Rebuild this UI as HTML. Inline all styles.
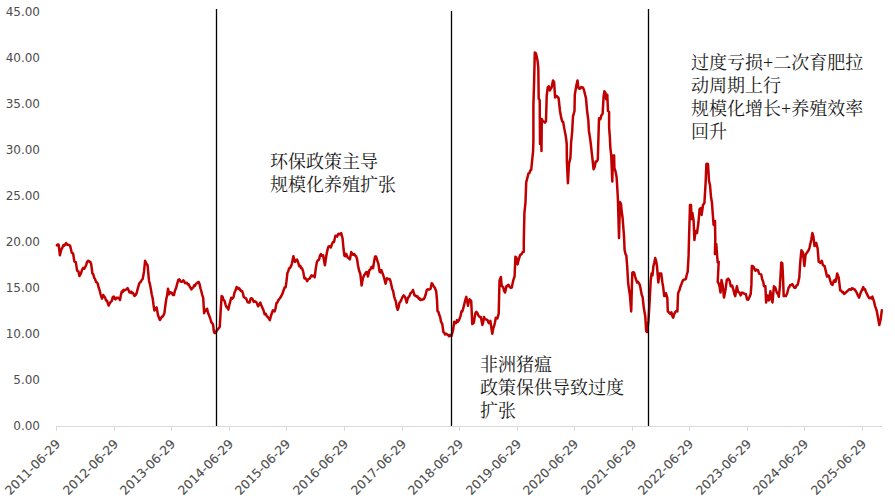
<!DOCTYPE html>
<html><head><meta charset="utf-8"><style>
html,body{margin:0;padding:0;background:#fff;width:895px;height:499px;overflow:hidden;}
svg{position:absolute;left:0;top:0;display:block;}
.yl{font-family:"DejaVu Sans",sans-serif;font-size:12px;fill:#4d4d4d;}
.xl{font-family:"DejaVu Sans",sans-serif;font-size:12.4px;fill:#4d4d4d;stroke:#4d4d4d;stroke-width:0.1px;}
.note{position:absolute;font-family:"Liberation Serif","Noto Serif CJK SC",serif;font-size:18px;line-height:23px;color:#1a1a1a;white-space:nowrap;}
</style></head><body>
<svg width="895" height="499" viewBox="0 0 895 499">
<line x1="56" y1="426.5" x2="882" y2="426.5" stroke="#D9D9D9" stroke-width="1"/>
<line x1="56.5" y1="426.5" x2="56.5" y2="431" stroke="#D9D9D9" stroke-width="1"/>
<line x1="114.5" y1="426.5" x2="114.5" y2="431" stroke="#D9D9D9" stroke-width="1"/>
<line x1="171.5" y1="426.5" x2="171.5" y2="431" stroke="#D9D9D9" stroke-width="1"/>
<line x1="229.5" y1="426.5" x2="229.5" y2="431" stroke="#D9D9D9" stroke-width="1"/>
<line x1="286.5" y1="426.5" x2="286.5" y2="431" stroke="#D9D9D9" stroke-width="1"/>
<line x1="344.5" y1="426.5" x2="344.5" y2="431" stroke="#D9D9D9" stroke-width="1"/>
<line x1="402.5" y1="426.5" x2="402.5" y2="431" stroke="#D9D9D9" stroke-width="1"/>
<line x1="459.5" y1="426.5" x2="459.5" y2="431" stroke="#D9D9D9" stroke-width="1"/>
<line x1="517.5" y1="426.5" x2="517.5" y2="431" stroke="#D9D9D9" stroke-width="1"/>
<line x1="574.5" y1="426.5" x2="574.5" y2="431" stroke="#D9D9D9" stroke-width="1"/>
<line x1="632.5" y1="426.5" x2="632.5" y2="431" stroke="#D9D9D9" stroke-width="1"/>
<line x1="689.5" y1="426.5" x2="689.5" y2="431" stroke="#D9D9D9" stroke-width="1"/>
<line x1="747.5" y1="426.5" x2="747.5" y2="431" stroke="#D9D9D9" stroke-width="1"/>
<line x1="804.5" y1="426.5" x2="804.5" y2="431" stroke="#D9D9D9" stroke-width="1"/>
<line x1="862.5" y1="426.5" x2="862.5" y2="431" stroke="#D9D9D9" stroke-width="1"/>
<text x="40" y="429.8" text-anchor="end" class="yl">0.00</text>
<text x="40" y="383.8" text-anchor="end" class="yl">5.00</text>
<text x="40" y="337.9" text-anchor="end" class="yl">10.00</text>
<text x="40" y="291.9" text-anchor="end" class="yl">15.00</text>
<text x="40" y="245.9" text-anchor="end" class="yl">20.00</text>
<text x="40" y="199.9" text-anchor="end" class="yl">25.00</text>
<text x="40" y="154.0" text-anchor="end" class="yl">30.00</text>
<text x="40" y="108.0" text-anchor="end" class="yl">35.00</text>
<text x="40" y="62.0" text-anchor="end" class="yl">40.00</text>
<text x="40" y="16.1" text-anchor="end" class="yl">45.00</text>
<text transform="translate(54.4,438.0) rotate(-45)" x="0" y="0" text-anchor="end" dominant-baseline="hanging" class="xl">2011-06-29</text>
<text transform="translate(112.4,438.0) rotate(-45)" x="0" y="0" text-anchor="end" dominant-baseline="hanging" class="xl">2012-06-29</text>
<text transform="translate(169.4,438.0) rotate(-45)" x="0" y="0" text-anchor="end" dominant-baseline="hanging" class="xl">2013-06-29</text>
<text transform="translate(227.4,438.0) rotate(-45)" x="0" y="0" text-anchor="end" dominant-baseline="hanging" class="xl">2014-06-29</text>
<text transform="translate(284.4,438.0) rotate(-45)" x="0" y="0" text-anchor="end" dominant-baseline="hanging" class="xl">2015-06-29</text>
<text transform="translate(342.4,438.0) rotate(-45)" x="0" y="0" text-anchor="end" dominant-baseline="hanging" class="xl">2016-06-29</text>
<text transform="translate(400.4,438.0) rotate(-45)" x="0" y="0" text-anchor="end" dominant-baseline="hanging" class="xl">2017-06-29</text>
<text transform="translate(457.4,438.0) rotate(-45)" x="0" y="0" text-anchor="end" dominant-baseline="hanging" class="xl">2018-06-29</text>
<text transform="translate(515.4,438.0) rotate(-45)" x="0" y="0" text-anchor="end" dominant-baseline="hanging" class="xl">2019-06-29</text>
<text transform="translate(572.4,438.0) rotate(-45)" x="0" y="0" text-anchor="end" dominant-baseline="hanging" class="xl">2020-06-29</text>
<text transform="translate(630.4,438.0) rotate(-45)" x="0" y="0" text-anchor="end" dominant-baseline="hanging" class="xl">2021-06-29</text>
<text transform="translate(687.4,438.0) rotate(-45)" x="0" y="0" text-anchor="end" dominant-baseline="hanging" class="xl">2022-06-29</text>
<text transform="translate(745.4,438.0) rotate(-45)" x="0" y="0" text-anchor="end" dominant-baseline="hanging" class="xl">2023-06-29</text>
<text transform="translate(802.4,438.0) rotate(-45)" x="0" y="0" text-anchor="end" dominant-baseline="hanging" class="xl">2024-06-29</text>
<text transform="translate(860.4,438.0) rotate(-45)" x="0" y="0" text-anchor="end" dominant-baseline="hanging" class="xl">2025-06-29</text>
<polyline points="56.9,245.3 57.8,244.5 58.7,244.8 59.9,255.3 61.2,249.9 62.6,247.1 63.5,245.1 64.4,245.6 65.3,244.1 66.2,243.1 67.1,244.7 68.0,244.8 69.1,244.9 70.2,245.9 71.7,252.6 73.1,253.5 74.4,261.6 75.8,262.1 77.1,270.6 78.5,271.5 79.4,276.0 81.0,273.3 82.1,269.7 83.2,267.9 84.3,268.8 85.2,267.0 86.1,265.2 87.2,261.6 88.3,260.7 89.3,261.7 90.2,261.8 91.2,264.3 92.4,273.3 93.3,274.3 94.2,277.8 95.1,279.1 96.0,281.8 96.9,282.3 97.8,283.9 98.7,287.8 99.6,290.1 100.5,294.1 102.0,298.6 103.2,295.0 104.2,296.7 105.1,297.7 106.0,300.4 106.9,300.4 107.8,303.2 108.7,305.5 109.6,303.5 110.5,302.2 111.7,301.1 112.8,297.1 113.7,296.5 114.6,298.6 115.4,299.5 116.3,297.7 117.1,298.2 118.1,297.7 119.0,298.3 120.0,300.0 120.9,295.1 121.8,291.4 122.7,292.0 123.5,289.8 124.4,290.5 125.5,289.9 126.5,289.3 127.6,288.1 128.5,289.8 129.4,292.3 130.3,292.7 131.2,291.6 132.1,293.2 132.9,292.8 133.7,294.1 134.5,295.9 135.6,295.1 136.6,293.2 137.5,289.6 138.5,286.0 139.4,283.2 140.0,282.5 140.9,281.6 141.8,280.0 142.7,278.9 144.0,271.7 145.1,260.8 146.3,263.5 147.6,265.3 149.0,280.7 149.9,284.1 150.8,288.8 151.7,294.2 152.6,297.8 153.5,304.7 154.4,310.5 155.5,308.2 156.6,307.4 158.0,315.0 158.9,317.7 159.9,320.0 160.8,318.5 161.7,316.8 162.6,316.7 163.5,315.1 164.4,313.2 165.3,305.8 166.2,299.6 167.1,295.6 168.0,288.8 169.2,294.2 170.1,292.2 171.0,292.4 172.0,293.1 172.9,295.0 173.9,295.1 175.0,290.5 176.1,287.9 177.2,283.8 178.3,279.8 179.4,279.3 180.6,281.6 181.5,281.7 182.4,281.5 183.3,280.3 184.2,281.4 185.1,283.2 186.0,282.9 186.9,282.8 187.8,284.4 188.7,284.3 189.6,286.3 190.5,287.9 191.4,289.4 192.3,287.9 193.3,287.6 194.2,285.2 195.1,285.8 196.0,283.6 196.9,283.4 197.8,282.1 198.7,281.9 199.6,284.3 200.5,288.5 201.4,291.5 202.3,295.1 203.2,297.8 204.1,313.2 205.3,309.6 206.2,310.6 207.1,308.7 208.0,312.8 208.9,315.0 210.1,318.0 211.3,322.2 212.2,323.2 213.1,324.9 214.0,332.1 214.9,333.1 215.8,333.0 216.9,329.8 218.0,329.4 218.9,327.9 219.8,326.7 220.7,310.4 221.6,296.0 222.5,296.7 223.4,299.6 224.6,301.0 225.7,305.1 226.6,307.4 227.5,307.0 228.4,309.6 229.3,304.9 230.3,301.4 231.2,297.8 232.3,298.7 233.5,297.3 234.5,292.6 235.6,290.3 236.6,287.0 237.5,287.6 238.5,289.0 239.4,288.3 240.3,290.1 241.1,291.1 242.0,290.9 242.9,293.3 243.8,297.1 244.7,297.6 245.6,298.1 246.5,299.3 247.6,302.1 248.7,302.6 249.6,302.5 250.6,298.6 251.5,298.2 252.6,299.1 253.7,301.9 254.7,301.3 255.6,301.6 256.6,302.6 258.1,306.3 259.2,304.4 260.3,302.6 261.4,305.6 262.5,308.1 263.6,310.5 264.7,314.3 265.7,313.7 266.6,315.8 267.6,316.9 268.7,318.2 269.8,320.2 271.3,314.7 272.9,310.3 273.8,311.0 274.6,311.4 275.5,308.7 276.4,303.3 277.3,302.5 278.1,300.7 279.0,299.3 280.1,298.0 281.3,296.0 282.4,293.8 283.5,290.5 284.6,287.5 285.7,287.2 286.5,281.2 287.4,272.9 288.2,271.5 289.0,268.5 289.9,268.2 290.9,266.5 291.8,264.1 293.4,256.3 294.9,261.9 296.0,260.4 297.1,259.6 298.2,262.6 299.3,266.3 300.3,265.8 301.2,268.2 302.2,268.5 303.3,272.1 304.4,278.4 305.3,278.0 306.3,279.4 307.2,281.2 308.1,279.3 309.0,278.9 309.9,278.4 310.8,276.3 311.6,275.4 312.5,276.2 313.6,275.7 314.7,277.3 315.8,268.4 316.9,261.9 318.0,260.3 319.1,259.6 320.0,255.4 320.9,254.1 322.0,255.8 323.1,255.2 324.0,260.5 324.9,265.2 326.4,255.2 327.5,249.7 328.6,246.4 329.7,246.2 330.8,247.5 331.9,244.3 333.0,242.0 334.0,242.1 335.4,235.8 336.3,235.8 337.2,236.7 338.1,234.1 339.0,233.7 340.1,234.4 341.2,233.1 342.6,238.5 343.5,248.5 344.4,255.7 345.3,256.3 346.2,253.9 347.7,257.5 348.8,258.3 349.9,259.3 351.3,252.1 352.2,253.4 353.1,254.8 354.2,254.0 355.3,255.7 356.2,256.3 357.1,259.3 358.0,265.6 359.2,271.0 360.3,273.7 361.6,285.5 362.9,278.2 364.0,275.5 365.2,273.7 366.1,272.1 367.0,271.9 367.9,276.4 369.4,270.1 370.3,269.7 371.2,267.4 372.1,266.8 373.0,268.3 374.2,261.1 375.1,256.6 376.0,256.5 376.9,259.3 378.4,263.8 379.6,271.9 380.5,272.4 381.4,270.1 382.7,273.7 384.2,278.2 385.6,283.7 386.9,278.2 387.8,278.8 388.7,279.2 389.6,279.0 390.5,281.0 391.4,285.2 392.3,289.1 393.2,291.3 394.1,296.3 395.0,299.1 395.9,301.7 396.8,307.2 397.7,309.8 398.6,307.3 399.5,302.6 400.4,301.8 401.3,299.9 402.5,296.9 403.6,295.4 404.6,296.4 405.5,298.1 406.7,302.6 407.6,298.9 408.5,297.2 409.4,296.2 410.3,293.6 411.2,292.5 412.1,292.0 413.0,290.0 414.5,295.4 415.6,295.6 416.6,296.8 417.5,296.4 418.5,298.6 419.4,298.1 420.3,300.0 421.2,300.0 422.1,299.4 423.0,299.6 423.9,298.9 424.8,297.2 425.7,294.5 426.6,290.4 427.8,289.2 429.0,289.6 429.8,289.3 430.6,288.8 431.7,283.2 432.5,284.0 433.3,285.6 434.9,288.0 436.2,291.3 437.0,300.1 437.5,311.3 438.4,311.9 439.4,315.3 440.2,317.1 441.0,321.7 442.3,324.1 443.4,332.1 444.2,332.6 445.0,334.5 446.2,333.8 447.4,334.5 448.2,335.2 449.0,336.2 449.8,335.0 451.4,336.1 452.2,333.1 453.0,330.5 454.2,321.7 455.4,323.3 456.2,323.0 457.0,320.1 458.0,321.6 459.0,320.1 460.3,316.9 461.5,311.3 462.3,311.5 463.1,308.9 464.7,302.5 465.5,299.3 466.3,296.9 467.1,300.5 468.0,305.7 468.8,301.7 469.6,299.3 471.2,300.9 472.3,324.1 473.9,322.5 474.7,316.8 475.5,312.9 476.3,311.9 477.1,312.6 478.7,316.1 479.8,316.9 480.8,316.9 482.4,324.9 483.2,322.1 484.0,316.9 484.8,319.1 485.6,319.3 486.6,319.6 487.5,320.1 488.3,322.2 489.1,323.3 490.4,320.9 491.4,328.2 492.3,333.7 493.2,328.5 494.2,325.7 495.0,322.2 495.8,317.7 497.4,318.5 498.7,313.7 499.5,280.8 500.9,277.0 501.7,286.1 503.1,286.8 504.1,290.9 505.1,292.5 506.5,286.1 507.4,286.2 508.3,284.7 509.7,286.8 510.8,287.9 511.8,287.5 513.2,280.5 514.6,276.3 515.4,256.7 516.3,257.4 517.5,264.4 518.6,260.2 520.0,255.3 520.9,254.5 521.7,253.9 522.8,251.9 523.8,251.8 523.8,241.2 524.4,213.0 525.5,202.3 526.2,182.4 527.6,177.0 528.5,173.4 529.4,173.1 530.3,170.5 531.2,169.8 531.7,164.9 533.1,151.0 533.4,141.2 533.4,104.8 534.1,82.0 534.8,52.6 535.9,53.3 536.9,57.5 537.6,61.0 538.3,68.0 538.7,98.8 539.7,100.2 540.0,144.0 540.6,121.0 541.5,151.0 541.8,119.0 542.8,121.2 543.9,121.6 545.0,122.7 546.0,121.0 546.7,96.0 547.7,87.6 548.8,86.2 549.9,90.4 550.8,88.7 551.6,87.6 553.0,80.6 554.1,82.0 555.1,97.4 556.5,96.0 557.5,96.8 558.6,98.1 560.0,111.0 561.3,118.2 562.2,121.3 563.1,121.8 564.4,129.1 565.8,136.3 566.7,143.5 566.9,162.3 567.9,183.3 569.0,163.7 570.4,158.0 571.1,142.6 572.1,132.7 573.0,116.4 574.5,111.0 574.8,94.8 576.3,85.8 577.5,80.4 578.4,87.6 579.3,88.7 580.2,88.5 581.1,87.1 582.0,87.6 582.9,87.4 583.8,89.4 584.7,93.0 586.0,98.4 587.1,111.0 588.3,120.0 588.9,130.9 589.8,136.4 590.8,144.0 592.2,156.6 593.6,169.3 594.7,166.7 595.7,161.6 596.8,161.5 597.8,159.5 599.0,118.2 600.4,119.1 601.3,115.5 602.6,113.7 603.6,96.6 604.4,91.2 605.5,93.0 606.2,99.3 607.3,94.8 608.0,111.0 609.1,111.9 609.1,127.3 609.8,136.3 610.3,147.1 611.2,155.4 612.3,181.5 613.0,155.4 614.1,155.4 614.4,168.0 615.5,171.4 616.6,177.0 617.1,185.1 617.7,195.0 618.0,202.0 619.0,238.0 620.0,202.0 621.0,204.0 621.8,212.0 622.6,218.0 624.0,236.0 624.6,250.0 625.5,254.1 626.3,255.4 627.2,266.2 628.1,282.5 629.0,289.3 629.9,295.1 631.2,311.4 632.3,272.6 633.2,272.2 634.1,272.6 635.3,277.1 636.2,279.9 637.1,282.5 638.0,281.8 639.0,283.4 639.9,285.1 640.8,289.7 641.7,294.7 642.6,296.9 643.8,307.8 645.3,316.8 646.2,331.2 647.1,332.1 648.5,320.4 649.8,298.7 650.7,280.7 651.6,273.5 652.5,275.3 653.4,266.2 654.3,262.6 655.2,258.1 656.1,260.8 657.0,266.2 658.3,282.5 659.4,273.5 660.3,273.6 661.2,273.5 662.4,282.5 663.3,287.9 664.2,296.0 665.1,296.0 666.0,293.3 667.3,297.8 667.8,311.4 668.7,312.1 669.6,313.2 670.5,313.9 671.4,312.3 672.3,316.0 673.2,317.7 674.2,314.1 675.1,312.3 676.2,311.1 677.4,311.4 678.1,293.3 679.6,289.7 680.5,286.4 681.4,284.3 682.5,281.3 683.5,279.8 684.7,279.6 685.9,278.9 686.8,274.6 687.7,271.7 688.6,255.4 689.0,239.0 690.0,205.0 691.0,205.0 691.6,219.0 692.4,213.0 693.6,221.0 694.4,240.0 695.6,231.0 697.0,233.0 698.4,223.0 699.6,209.0 701.0,208.0 701.6,215.0 703.0,205.0 704.4,203.0 705.6,183.0 706.4,164.0 707.2,163.8 708.0,164.0 709.0,181.0 710.0,185.0 711.0,197.0 712.0,203.0 712.4,209.0 713.6,225.0 715.0,221.0 715.3,240.0 714.9,254.0 716.3,244.2 717.0,254.0 717.7,262.5 718.7,261.8 717.7,282.1 718.6,283.1 719.5,286.3 720.5,292.6 721.5,280.0 722.6,284.9 724.0,297.5 725.4,290.5 726.8,280.0 728.2,278.6 729.6,280.7 730.8,286.3 732.2,285.6 733.6,290.5 734.5,294.5 735.3,296.1 736.1,290.8 736.9,286.3 738.1,291.9 739.5,292.6 740.6,295.4 742.0,292.6 742.9,292.8 743.7,293.3 744.8,293.9 745.8,294.0 747.2,299.6 748.2,299.8 749.3,297.5 750.7,294.0 751.4,284.9 751.8,266.0 752.6,266.1 753.5,266.7 754.6,269.5 755.5,270.8 756.3,269.5 757.1,269.9 758.0,270.2 759.1,273.7 760.2,274.1 761.2,274.4 762.2,279.3 763.3,282.1 764.0,286.3 765.4,286.3 766.1,302.5 767.5,295.4 768.9,300.4 770.4,291.2 771.5,299.0 772.5,302.5 773.9,286.3 775.3,287.7 776.2,290.6 777.1,293.3 778.0,293.6 778.8,296.8 779.9,286.3 781.3,262.5 782.3,263.2 783.0,276.5 783.7,296.1 784.8,295.9 785.8,296.1 787.2,293.3 788.6,287.7 789.2,287.1 790.2,285.1 791.3,285.0 792.3,284.1 793.4,286.1 794.5,287.8 795.5,287.7 796.5,285.4 797.6,285.0 798.5,281.2 799.3,277.6 800.2,262.9 801.4,250.3 802.9,252.4 804.4,266.1 805.6,254.5 807.1,252.4 808.6,250.3 809.5,247.8 810.3,243.9 811.3,239.7 812.4,233.0 813.4,236.6 814.5,246.1 815.4,244.7 816.2,242.9 817.6,248.2 818.7,261.8 819.5,261.8 820.4,262.9 821.8,260.8 822.9,265.0 823.8,265.6 824.6,266.1 826.1,272.4 827.1,276.6 828.0,276.2 828.8,275.5 830.3,280.8 831.3,283.8 832.4,285.0 833.8,280.8 834.6,280.1 835.5,281.8 836.4,277.8 837.2,273.4 838.7,277.6 840.2,290.3 841.2,290.6 842.3,292.4 843.2,292.1 844.1,293.9 845.0,293.4 846.0,292.4 847.1,291.3 848.2,290.4 849.2,289.2 850.1,289.6 851.0,289.8 851.9,288.2 852.8,288.4 853.6,289.2 854.5,289.2 855.5,290.8 856.6,292.4 857.4,294.2 858.3,296.4 859.1,297.6 860.0,294.9 860.8,292.4 861.6,290.7 862.5,288.8 863.3,287.1 864.1,289.5 865.0,289.2 865.9,291.9 866.7,293.4 868.2,296.6 869.2,298.2 870.3,297.6 871.3,298.4 872.4,296.6 873.4,299.7 874.2,302.2 875.1,306.1 876.6,310.3 877.6,315.5 878.5,320.4 879.3,325.0 880.8,318.7 881.8,310.3" fill="none" stroke="#C00000" stroke-width="2.5" stroke-linejoin="round" stroke-linecap="round"/>
<line x1="216.5" y1="9" x2="216.5" y2="426" stroke="#000" stroke-width="1.3"/>
<line x1="451.5" y1="11" x2="451.5" y2="426" stroke="#000" stroke-width="1.3"/>
<line x1="648.5" y1="9" x2="648.5" y2="426" stroke="#000" stroke-width="1.3"/>
</svg>
<div class="note" style="left:270px;top:150.5px;">环保政策主导<br>规模化养殖扩张</div>
<div class="note" style="left:480px;top:354px;">非洲猪瘟<br>政策保供导致过度<br>扩张</div>
<div class="note" style="left:691px;top:52px;">过度亏损+二次育肥拉<br>动周期上行<br>规模化增长+养殖效率<br>回升</div>
</body></html>
